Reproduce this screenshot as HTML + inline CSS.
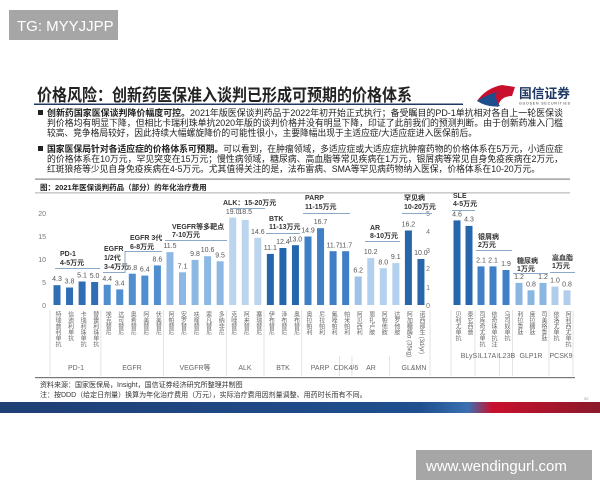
<!DOCTYPE html>
<html><head><meta charset="utf-8"><style>
html,body{margin:0;padding:0;background:#fff;}
svg{display:block;font-family:"Liberation Sans","Noto Sans CJK SC",sans-serif;}
.v{writing-mode:vertical-rl;font-size:6px;fill:#666;}
.n{font-size:7px;fill:#555;text-anchor:middle;}
.g{font-size:7px;fill:#666;text-anchor:middle;}
.a{font-size:7px;fill:#333;font-weight:bold;}
.t{font-size:7px;fill:#777;text-anchor:end;}
.b{font-size:9px;fill:#222;}
</style></head><body>
<svg width="600" height="480" viewBox="0 0 600 480">
<rect x="9" y="10" width="109" height="30" fill="#a6a6a6"/>
<text x="17" y="31" font-size="15" fill="#fff">TG: MYYJJPP</text>

<text x="37" y="101" font-size="17" font-weight="bold" fill="#222" textLength="375" lengthAdjust="spacingAndGlyphs">价格风险：创新药医保准入谈判已形成可预期的价格体系</text>
<rect x="34" y="103.5" width="429" height="1.5" fill="#1f3864"/>
<path d="M477 101 Q486 88 502 85 L515 87 L512 96 Q500 96 498 107 Q488 104 477 101Z" fill="#c8102e"/>
<path d="M477 101 Q488 108 500 106 Q494 98 497 92 Q486 95 477 101Z" fill="#1f4e8c"/>
<text x="519" y="98" font-size="13" font-weight="bold" fill="#1f3864" textLength="51" lengthAdjust="spacingAndGlyphs">国信证券</text>
<text x="519" y="104.5" font-size="3.5" fill="#333" textLength="51">GUOSEN SECURITIES</text>

<rect x="38" y="110" width="5" height="5" fill="#222"/>
<text class="b" x="47" y="116" textLength="516" lengthAdjust="spacingAndGlyphs"><tspan font-weight="bold">创新药国家医保谈判降价幅度可控。</tspan>2021年版医保谈判药品于2022年初开始正式执行；备受瞩目的PD-1单抗相对各自上一轮医保谈</text>
<text class="b" x="47" y="126" textLength="516" lengthAdjust="spacingAndGlyphs">判价格均有明显下降，但相比卡瑞利珠单抗2020年版的谈判价格并没有明显下降，印证了此前我们的预测判断。由于创新药准入门槛</text>
<text class="b" x="47" y="136" textLength="430" lengthAdjust="spacingAndGlyphs">较高、竞争格局较好，因此持续大幅螺旋降价的可能性很小，主要降幅出现于主适应症/大适应症进入医保前后。</text>
<rect x="38" y="146" width="5" height="5" fill="#222"/>
<text class="b" x="47" y="152" textLength="516" lengthAdjust="spacingAndGlyphs"><tspan font-weight="bold">国家医保局针对各适应症的价格体系可预期。</tspan>可以看到，在肿瘤领域，多适应症或大适应症抗肿瘤药物的价格体系在5万元，小适应症</text>
<text class="b" x="47" y="162" textLength="516" lengthAdjust="spacingAndGlyphs">的价格体系在10万元，罕见突变在15万元；慢性病领域，糖尿病、高血脂等常见疾病在1万元，银屑病等常见自身免疫疾病在2万元，</text>
<text class="b" x="47" y="172" textLength="493" lengthAdjust="spacingAndGlyphs">红斑狼疮等少见自身免疫疾病在4-5万元。尤其值得关注的是，法布雷病、SMA等罕见病药物纳入医保，价格体系在10-20万元。</text>

<rect x="35" y="178.5" width="535" height="1.2" fill="#888"/>
<text x="40" y="190" font-size="7.5" font-weight="bold" fill="#222">图：2021年医保谈判药品（部分）的年化治疗费用</text>
<rect x="35" y="192.5" width="535" height="0.8" fill="#999"/>

<text class="t" x="46" y="308">0</text><text class="t" x="46" y="285">5</text><text class="t" x="46" y="262">10</text><text class="t" x="46" y="239">15</text><text class="t" x="46" y="216">20</text>
<text class="t" x="430" y="308">0</text><text class="t" x="430" y="290">1</text><text class="t" x="430" y="271">2</text><text class="t" x="430" y="253">3</text><text class="t" x="430" y="234">4</text><text class="t" x="430" y="216">5</text>

<g>
<rect x="53.5" y="285.2" width="7" height="19.8" fill="#2f6eb5"/>
<rect x="66.05" y="287.5" width="7" height="17.5" fill="#2f6eb5"/>
<rect x="78.6" y="281.5" width="7" height="23.5" fill="#2f6eb5"/>
<rect x="91.15" y="282" width="7" height="23" fill="#2f6eb5"/>
<rect x="103.7" y="284.8" width="7" height="20.2" fill="#4f8fd0"/>
<rect x="116.25" y="289.4" width="7" height="15.6" fill="#4f8fd0"/>
<rect x="128.8" y="273.7" width="7" height="31.3" fill="#4f8fd0"/>
<rect x="141.35" y="275.6" width="7" height="29.4" fill="#4f8fd0"/>
<rect x="153.9" y="265.4" width="7" height="39.6" fill="#4f8fd0"/>
<rect x="166.45" y="252.1" width="7" height="52.9" fill="#8db8e3"/>
<rect x="179" y="272.3" width="7" height="32.7" fill="#8db8e3"/>
<rect x="191.55" y="259.9" width="7" height="45.1" fill="#8db8e3"/>
<rect x="204.1" y="256.2" width="7" height="48.8" fill="#8db8e3"/>
<rect x="216.65" y="261.3" width="7" height="43.7" fill="#8db8e3"/>
<rect x="229.2" y="217.6" width="7" height="87.4" fill="#bcd5ee"/>
<rect x="241.75" y="219.9" width="7" height="85.1" fill="#bcd5ee"/>
<rect x="254.3" y="237.8" width="7" height="67.2" fill="#bcd5ee"/>
<rect x="266.85" y="253.9" width="7" height="51.1" fill="#2466ad"/>
<rect x="279.4" y="248" width="7" height="57" fill="#2466ad"/>
<rect x="291.95" y="245.2" width="7" height="59.8" fill="#2466ad"/>
<rect x="304.5" y="236.5" width="7" height="68.5" fill="#3f7fc6"/>
<rect x="317.05" y="228.2" width="7" height="76.8" fill="#3f7fc6"/>
<rect x="329.6" y="251.2" width="7" height="53.8" fill="#3f7fc6"/>
<rect x="342.15" y="251.2" width="7" height="53.8" fill="#3f7fc6"/>
<rect x="354.7" y="276.5" width="7" height="28.5" fill="#9fc2e7"/>
<rect x="367.25" y="258.1" width="7" height="46.9" fill="#b3d0ee"/>
<rect x="379.8" y="268.2" width="7" height="36.8" fill="#b3d0ee"/>
<rect x="392.35" y="263.1" width="7" height="41.9" fill="#b3d0ee"/>
<rect x="404.9" y="230.5" width="7" height="74.5" fill="#2866ab"/>
<rect x="417.45" y="259" width="7" height="46" fill="#2866ab"/>
</g>
<g class="n">
<text x="57" y="281">4.3</text><text x="69.5" y="283.5">3.8</text><text x="82" y="277.5">5.1</text><text x="94.6" y="278">5.0</text>
<text x="107.2" y="281">4.4</text><text x="119.7" y="285.5">3.4</text><text x="132.3" y="270">6.8</text><text x="144.8" y="271.5">6.4</text><text x="157.4" y="261.5">8.6</text>
<text x="170" y="248">11.5</text><text x="182.5" y="268.5">7.1</text><text x="195" y="256">9.8</text><text x="207.6" y="252">10.6</text><text x="220.1" y="257.5">9.5</text>
<text x="232.7" y="214">19.0</text><text x="245.2" y="214">18.5</text><text x="257.8" y="234">14.6</text>
<text x="270.3" y="250">11.1</text><text x="282.9" y="244">12.4</text><text x="295.4" y="241.5">13.0</text>
<text x="308" y="232.5">14.9</text><text x="320.5" y="224">16.7</text><text x="333.1" y="247.5">11.7</text><text x="345.6" y="247.5">11.7</text>
<text x="358.2" y="272.5">6.2</text><text x="370.7" y="254">10.2</text><text x="383.3" y="264.5">8.0</text><text x="395.8" y="259">9.1</text>
<text x="408.4" y="226.5">16.2</text><text x="420.9" y="255">10.0</text>
</g>

<rect x="453.5" y="220.4" width="7" height="84.6" fill="#2666ac"/>
<rect x="465.5" y="225.9" width="7" height="79.1" fill="#2666ac"/>
<rect x="477.5" y="266.4" width="7" height="38.6" fill="#3f80c8"/>
<rect x="489.5" y="266.4" width="7" height="38.6" fill="#3f80c8"/>
<rect x="502.5" y="270" width="7" height="35" fill="#3f80c8"/>
<rect x="515.5" y="282.9" width="7" height="22.1" fill="#8ab6e2"/>
<rect x="527.5" y="290.3" width="7" height="14.7" fill="#8ab6e2"/>
<rect x="539.5" y="282.9" width="7" height="22.1" fill="#8ab6e2"/>
<rect x="551.5" y="286.6" width="7" height="18.4" fill="#b0cdec"/>
<rect x="563.5" y="290.3" width="7" height="14.7" fill="#b0cdec"/>
<g class="n">
<text x="457" y="216.5">4.6</text><text x="469" y="221.5">4.3</text><text x="481" y="262.5">2.1</text><text x="493" y="262.5">2.1</text><text x="506" y="266">1.9</text>
<text x="519" y="279">1.2</text><text x="531" y="286.5">0.8</text><text x="543" y="279">1.2</text><text x="555" y="282.5">1.0</text><text x="567" y="286.5">0.8</text>
</g>

<g class="a">
<text x="60" y="256">PD-1</text><text x="60" y="265">4-5万元</text>
<text x="104" y="251">EGFR</text><text x="104" y="260">1/2代</text><text x="104" y="269">3-4万元</text>
<text x="130" y="240">EGFR 3代</text><text x="130" y="249">6-8万元</text>
<text x="172" y="229">VEGFR等多靶点</text><text x="172" y="237">7-10万元</text>
<text x="223" y="205">ALK：15-20万元</text>
<text x="269" y="221">BTK</text><text x="269" y="229">11-13万元</text>
<text x="305" y="200">PARP</text><text x="305" y="209">11-15万元</text>
<text x="370" y="230">AR</text><text x="370" y="238">8-10万元</text>
<text x="404" y="200">罕见病</text><text x="404" y="209">10-20万元</text>
<text x="453" y="198">SLE</text><text x="453" y="206">4-5万元</text>
<text x="478" y="239">银屑病</text><text x="478" y="247">2万元</text>
<text x="517" y="263">糖尿病</text><text x="517" y="271">1万元</text>
<text x="552" y="260">高血脂</text><text x="552" y="268">1万元</text>
</g>
<g stroke="#8aa9c8" stroke-width="1" fill="none">
<path d="M55 268.5H100"/>
<path d="M103 272.5H125V251.5H162"/>
<path d="M165 240.5H227"/>
<path d="M230 208.5H265"/>
<path d="M266 233.5H300"/>
<path d="M303 213.5H350"/>
<path d="M365 241.5H400"/>
<path d="M402 213.5H432"/>
<path d="M452 210.5H475"/>
<path d="M476 250.5H512"/>
<path d="M513 273.5H548"/>
<path d="M550 272.5H575"/>
</g>

<g stroke="#ddd" stroke-width="0.8">
<path d="M50 310V376M100.9 310V376M163.6 310V376M226.4 310V376M264 310V376M301.7 310V376M339.4 356V376M351.9 356V376M389.6 356V376M430 310V376"/>
<path d="M451 310V376M475 310V376M499.5 356V376M512.5 310V376M549 310V376M573 310V376"/>
</g>

<g class="v">
<text x="57" y="311">特瑞普利单抗</text><text x="69.6" y="311">信迪利单抗</text><text x="82.1" y="311">卡瑞利珠单抗</text><text x="94.7" y="311">替雷利珠单抗</text>
<text x="107.2" y="311">埃克替尼</text><text x="119.8" y="311">达可替尼</text><text x="132.3" y="311">奥希替尼</text><text x="144.9" y="311">阿美替尼</text><text x="157.4" y="311">伏美替尼</text>
<text x="170" y="311">阿帕替尼</text><text x="182.5" y="311">安罗替尼</text><text x="195.1" y="311">呋喹替尼</text><text x="207.6" y="311">索凡替尼</text><text x="220.2" y="311">多纳非尼</text>
<text x="232.7" y="311">克唑替尼</text><text x="245.3" y="311">阿来替尼</text><text x="257.8" y="311">塞瑞替尼</text>
<text x="270.4" y="311">伊布替尼</text><text x="282.9" y="311">泽布替尼</text><text x="295.5" y="311">奥布替尼</text>
<text x="308" y="311">奥拉帕利</text><text x="320.6" y="311">尼拉帕利</text><text x="333.1" y="311">氟唑帕利</text><text x="345.7" y="311">帕米帕利</text>
<text x="358.2" y="311">阿贝西利</text><text x="370.8" y="311">恩扎卢胺</text><text x="383.3" y="311">阿帕他胺</text><text x="395.9" y="311">达罗他胺</text>
<text x="408.4" y="311">阿加糖酶α (35kg)</text><text x="421" y="311">诺西那生 (3d/yr)</text>
<text x="457" y="311">贝利尤单抗</text><text x="469" y="311">泰它西普</text><text x="481" y="311">司库奇尤单抗</text><text x="493" y="311">依奇珠单抗注</text><text x="506" y="311">乌司奴单抗</text>
<text x="519" y="311">利拉鲁肽</text><text x="531" y="311">度拉糖肽</text><text x="543" y="311">司美格鲁肽</text><text x="555" y="311">依洛尤单抗</text><text x="567" y="311">阿利西尤单抗</text>
</g>
<g class="g">
<text x="76" y="370">PD-1</text><text x="132" y="370">EGFR</text><text x="195" y="370">VEGFR等</text><text x="245" y="370">ALK</text><text x="283" y="370">BTK</text>
<text x="320" y="370">PARP</text><text x="346" y="370">CDK4/6</text><text x="371" y="370">AR</text><text x="414" y="370">GL&amp;MN</text>
<text x="469" y="358">BLyS</text><text x="487" y="358">IL17A</text><text x="506" y="358">IL23B</text><text x="531" y="358">GLP1R</text><text x="561" y="358">PCSK9</text>
</g>

<rect x="35" y="377" width="540" height="1.2" fill="#777"/>
<text x="40" y="387" font-size="7" fill="#333">资料来源：国家医保局，Insight，国信证券经济研究所整理并制图</text>
<text x="40" y="397" font-size="7" fill="#333">注：按DDD（给定日剂量）换算为年化治疗费用（万元），实际治疗费用因剂量调整、用药时长而有不同。</text>
<text x="584" y="400" font-size="4" fill="#999">30</text>

<defs><linearGradient id="bar" x1="0" x2="1">
<stop offset="0" stop-color="#1f3f75"/><stop offset="0.7" stop-color="#1f4f8f"/><stop offset="0.78" stop-color="#3a70b0"/><stop offset="0.82" stop-color="#c8102e"/><stop offset="1" stop-color="#8a1a2a"/>
</linearGradient></defs>
<rect x="0" y="402" width="600" height="11" fill="url(#bar)"/>

<rect x="416" y="450" width="176" height="30" fill="#a6a6a6"/>
<text x="426" y="471" font-size="15" fill="#fff">www.wendingurl.com</text>
</svg>
</body></html>
